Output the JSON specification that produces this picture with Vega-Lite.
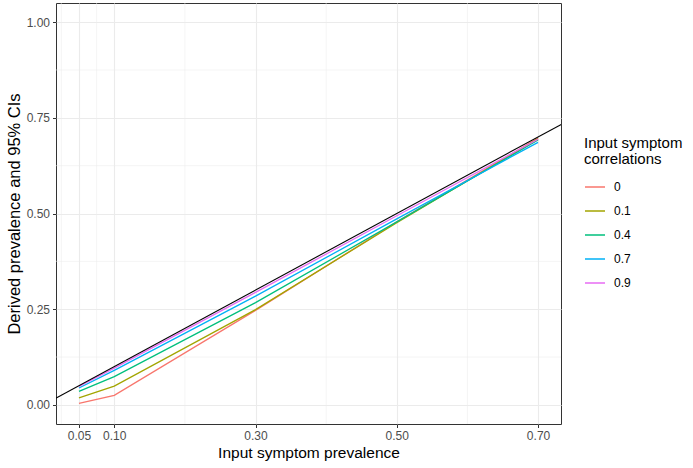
{
  "$schema": "https://vega.github.io/schema/vega-lite/v6.json",
  "width": 505,
  "height": 421,
  "autosize": "none",
  "padding": {"left": 56, "top": 3, "right": 132, "bottom": 44},
  "background": "white",
  "config": {
    "font": "Liberation Sans",
    "view": {"stroke": "#333333", "strokeWidth": 1},
    "axis": {
      "domain": false,
      "gridColor": "#EBEBEB",
      "gridWidth": 1.1,
      "tickColor": "#333333",
      "tickSize": 3.5,
      "tickWidth": 1,
      "labelColor": "#4D4D4D",
      "labelFontSize": 12,
      "labelPadding": 2,
      "titleColor": "#000000",
      "titleFontSize": 15.5,
      "titleFontWeight": "normal"
    }
  },
  "datasets": {
    "series": [
      {"prevalence": 0.05, "derived": 0.004, "corr": "0"},
      {"prevalence": 0.10, "derived": 0.025, "corr": "0"},
      {"prevalence": 0.30, "derived": 0.247, "corr": "0"},
      {"prevalence": 0.50, "derived": 0.478, "corr": "0"},
      {"prevalence": 0.70, "derived": 0.697, "corr": "0"},
      {"prevalence": 0.05, "derived": 0.018, "corr": "0.1"},
      {"prevalence": 0.10, "derived": 0.049, "corr": "0.1"},
      {"prevalence": 0.30, "derived": 0.249, "corr": "0.1"},
      {"prevalence": 0.50, "derived": 0.476, "corr": "0.1"},
      {"prevalence": 0.70, "derived": 0.695, "corr": "0.1"},
      {"prevalence": 0.05, "derived": 0.035, "corr": "0.4"},
      {"prevalence": 0.10, "derived": 0.074, "corr": "0.4"},
      {"prevalence": 0.30, "derived": 0.267, "corr": "0.4"},
      {"prevalence": 0.50, "derived": 0.478, "corr": "0.4"},
      {"prevalence": 0.70, "derived": 0.692, "corr": "0.4"},
      {"prevalence": 0.05, "derived": 0.044, "corr": "0.7"},
      {"prevalence": 0.10, "derived": 0.090, "corr": "0.7"},
      {"prevalence": 0.30, "derived": 0.284, "corr": "0.7"},
      {"prevalence": 0.50, "derived": 0.486, "corr": "0.7"},
      {"prevalence": 0.70, "derived": 0.686, "corr": "0.7"},
      {"prevalence": 0.05, "derived": 0.048, "corr": "0.9"},
      {"prevalence": 0.10, "derived": 0.096, "corr": "0.9"},
      {"prevalence": 0.30, "derived": 0.294, "corr": "0.9"},
      {"prevalence": 0.50, "derived": 0.494, "corr": "0.9"},
      {"prevalence": 0.70, "derived": 0.694, "corr": "0.9"}
    ],
    "identity": [
      {"prevalence": 0, "derived": 0},
      {"prevalence": 1, "derived": 1}
    ],
    "xminor": [
      {"prevalence": 0.025}, {"prevalence": 0.075}, {"prevalence": 0.2}, {"prevalence": 0.4}, {"prevalence": 0.6}
    ],
    "yminor": [
      {"derived": 0.125}, {"derived": 0.375}, {"derived": 0.625}, {"derived": 0.875}
    ]
  },
  "layer": [
    {
      "data": {"name": "xminor"},
      "mark": {"type": "rule", "color": "#EBEBEB", "strokeWidth": 0.55},
      "encoding": {
        "x": {"field": "prevalence", "type": "quantitative", "scale": {"domain": [0.0175, 0.7325], "nice": false, "zero": false}}
      }
    },
    {
      "data": {"name": "yminor"},
      "mark": {"type": "rule", "color": "#EBEBEB", "strokeWidth": 0.55},
      "encoding": {
        "y": {"field": "derived", "type": "quantitative", "scale": {"domain": [-0.05, 1.05], "nice": false, "zero": false}}
      }
    },
    {
      "data": {"name": "series"},
      "mark": {"type": "line", "strokeWidth": 1.3, "clip": true},
      "encoding": {
        "x": {
          "field": "prevalence", "type": "quantitative",
          "scale": {"domain": [0.0175, 0.7325], "nice": false, "zero": false},
          "axis": {"values": [0.05, 0.1, 0.3, 0.5, 0.7], "format": ".2f", "title": "Input symptom prevalence", "titlePadding": 4, "labelPadding": 3}
        },
        "y": {
          "field": "derived", "type": "quantitative",
          "scale": {"domain": [-0.05, 1.05], "nice": false, "zero": false},
          "axis": {"values": [0, 0.25, 0.5, 0.75, 1], "format": ".2f", "title": "Derived prevalence and 95% CIs", "titleFontSize": 16.5, "titlePadding": 4, "labelPadding": 3}
        },
        "color": {
          "field": "corr", "type": "nominal",
          "scale": {"domain": ["0", "0.1", "0.4", "0.7", "0.9"], "range": ["#F8766D", "#A3A500", "#00BF7D", "#00B0F6", "#E76BF3"]},
          "legend": {
            "title": ["Input symptom", "correlations"],
            "orient": "none",
            "legendX": 528,
            "legendY": 133,
            "titleFontSize": 15,
            "titleFontWeight": "normal",
            "titleColor": "#000000",
            "titleLineHeight": 16,
            "titlePadding": 9,
            "labelFontSize": 12,
            "labelColor": "#000000",
            "labelOffset": 8,
            "symbolType": "stroke",
            "symbolSize": 400,
            "symbolStrokeWidth": 1.5,
            "rowPadding": 7
          }
        }
      }
    },
    {
      "data": {"name": "identity"},
      "mark": {"type": "line", "color": "#000000", "strokeWidth": 1.1, "clip": true},
      "encoding": {
        "x": {"field": "prevalence", "type": "quantitative"},
        "y": {"field": "derived", "type": "quantitative"}
      }
    }
  ]
}
